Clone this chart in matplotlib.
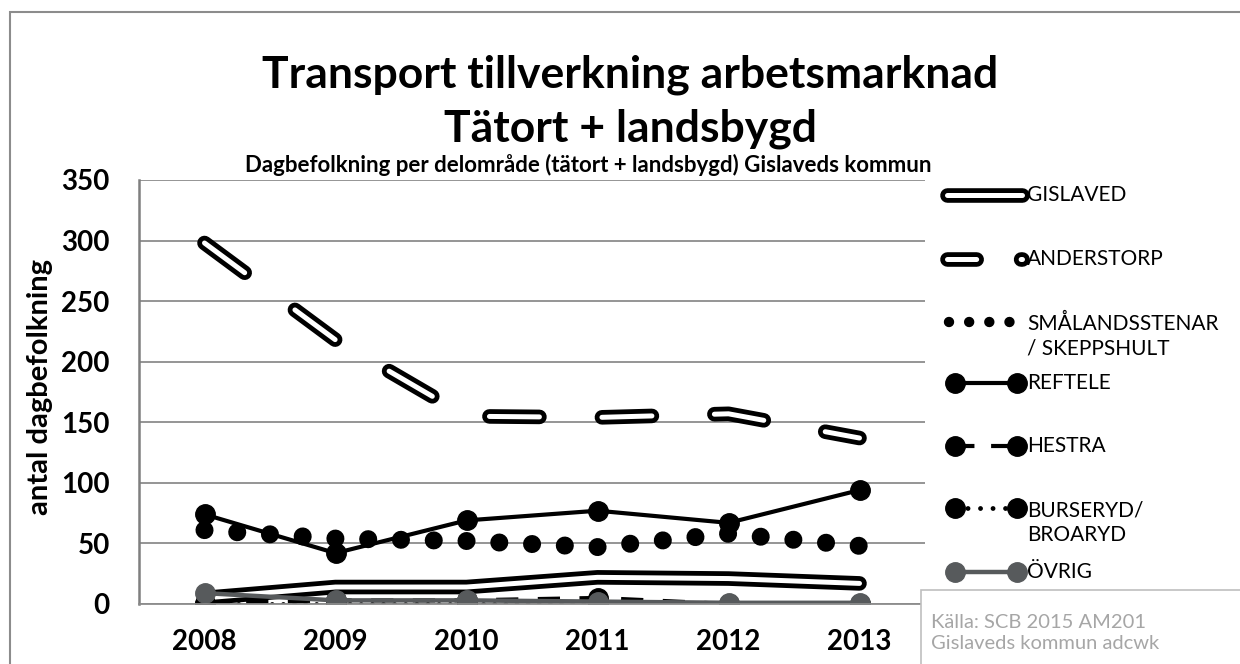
import matplotlib
matplotlib.use("Agg")
import matplotlib.pyplot as plt
import matplotlib.patheffects as pe
from matplotlib.lines import Line2D
from matplotlib.patches import Rectangle

# dash lengths given in points, not scaled by line width
plt.rcParams['lines.scale_dashes'] = False
plt.rcParams['font.family'] = ['Lato', 'DejaVu Sans']

years = ['2008', '2009', '2010', '2011', '2012', '2013']

gislaved = [5, 14, 14, 22, 21, 17]
anderstorp = [298, 218, 155, 154, 157, 137]
smalandsstenar = [61, 54, 52, 47, 58, 48]
reftele = [74, 42, 69, 77, 67, 94]
hestra = [1, 3, 3, 5, 0, 0]
burseryd = [0, 0, 0, 0, 0, 0]
ovrig = [9, 3, 3, 2, 1, 1]

labels = ['GISLAVED', 'ANDERSTORP', 'SMÅLANDSSTENAR\n/ SKEPPSHULT', 'REFTELE',
          'HESTRA', 'BURSERYD/\nBROARYD', 'ÖVRIG']

title1 = 'Transport tillverkning arbetsmarknad'
title2 = 'Tätort + landsbygd'
subtitle = 'Dagbefolkning per delområde (tätort + landsbygd) Gislaveds kommun'
ylabel = 'antal dagbefolkning'
source = 'Källa: SCB 2015 AM201\nGislaveds kommun adcwk'

GREY = '#575a5c'
W, H = 1240, 664


def double(outer):
    return [pe.Stroke(linewidth=outer, foreground='black'), pe.Normal()]


def main():
    fig = plt.figure(figsize=(W / 100, H / 100), dpi=100)
    ax = fig.add_axes([139 / W, 1 - 604 / H, 786 / W, 424 / H])
    x = list(range(len(years)))

    ax.plot(x, gislaved, color='white', lw=3.6, solid_capstyle='round',
            solid_joinstyle='round', path_effects=double(10.5))
    ax.plot(x, anderstorp, color='white', lw=3.6, linestyle=(0, (36, 45)),
            dash_capstyle='round', dash_joinstyle='round',
            path_effects=double(10.5))
    ax.plot(x, smalandsstenar, color='black', lw=13, linestyle=(0, (0.01, 23.6)),
            dash_capstyle='round')
    ax.plot(x, reftele, color='black', lw=3, marker='o', ms=14)
    ax.plot(x, hestra, color='black', lw=3, linestyle=(0, (16, 14)), marker='o', ms=14)
    ax.plot(x, burseryd, color='black', lw=3.5, linestyle=(0, (0.01, 8)),
            dash_capstyle='round', marker='o', ms=14)
    ax.plot(x, ovrig, color=GREY, lw=3.2, marker='o', ms=14)

    ax.set_xlim(-0.5, len(years) - 0.5)
    ax.set_ylim(0, 350)
    ax.set_yticks(range(0, 351, 50))
    ax.set_xticks(x)
    ax.set_xticklabels(years)
    ax.tick_params(length=0, labelsize=20)
    ax.tick_params(axis='y', pad=21)
    ax.tick_params(axis='x', pad=18)
    for lab in ax.get_xticklabels() + ax.get_yticklabels():
        lab.set_fontweight('bold')
    ax.yaxis.grid(True, color='#8c8c8c', lw=1.3)
    ax.set_axisbelow(True)
    for s in ['top', 'right']:
        ax.spines[s].set_visible(False)
    ax.spines['left'].set_color('#7f7f7f')
    ax.spines['left'].set_linewidth(1.8)
    ax.spines['bottom'].set_color('#8c8c8c')
    ax.spines['bottom'].set_linewidth(1.3)

    fig.text(40 / W, 1 - 387 / H, ylabel, rotation=90, ha='center', va='center',
             fontsize=21, fontweight='bold')
    fig.text(630 / W, 1 - 75 / H, title1, ha='center', va='center', fontsize=32,
             fontweight='bold')
    fig.text(630 / W, 1 - 129 / H, title2, ha='center', va='center', fontsize=32,
             fontweight='bold')
    fig.text(588 / W, 1 - 165 / H, subtitle, ha='center', va='center', fontsize=16,
             fontweight='bold')

    # legend drawn by hand so the handles line up like the original
    line_x = [947 / W, 1022 / W]
    mark_x = [955 / W, 1017 / W]
    tx = 1027 / W
    ly = [195, 259, 322, 383, 446, 508, 572]
    styles = [
        (line_x, dict(color='white', lw=3.6, solid_capstyle='round',
                      path_effects=double(10.5))),
        (line_x, dict(color='white', lw=3.6, linestyle=(0, (21, 32)),
                      dash_capstyle='round', path_effects=double(10.5))),
        ([949 / W, 1012 / W], dict(color='black', lw=7.5,
                                   linestyle=(0, (0.01, 14.5)), dash_capstyle='round')),
        (mark_x, dict(color='black', lw=3, marker='o', ms=14)),
        (mark_x, dict(color='black', lw=3, linestyle=(0, (14, 12)), marker='o', ms=14)),
        (mark_x, dict(color='black', lw=3.5, linestyle=(0, (0.01, 9)),
                      dash_capstyle='round', marker='o', ms=14)),
        (mark_x, dict(color=GREY, lw=3.2, marker='o', ms=14)),
    ]
    for lab, y, (xs, st) in zip(labels, ly, styles):
        yf = 1 - y / H
        fig.add_artist(Line2D(xs, [yf, yf], transform=fig.transFigure, **st))
        shift = (lab.count('\n')) * 14.5
        fig.text(tx, 1 - (y + shift) / H, lab, ha='left', va='center',
                 fontsize=15, linespacing=1.3)

    # outer chart border and source box
    fig.add_artist(Rectangle((10 / W, -0.1), 1.1, 1.1 - 12 / H, fill=False,
                             edgecolor='#8c8c8c', lw=1.5, transform=fig.transFigure))
    fig.add_artist(Rectangle((921 / W, -0.05), 0.3, 0.05 + 1 - 590 / H,
                             facecolor='white', edgecolor='#bfbfbf', lw=1.2,
                             transform=fig.transFigure, zorder=5))
    fig.text(931 / W, 1 - 633 / H, source, ha='left', va='center', fontsize=14.5,
             color='#a6a6a6', linespacing=1.3, zorder=6)

    fig.savefig('out.png', dpi=100)


if __name__ == '__main__':
    main()
